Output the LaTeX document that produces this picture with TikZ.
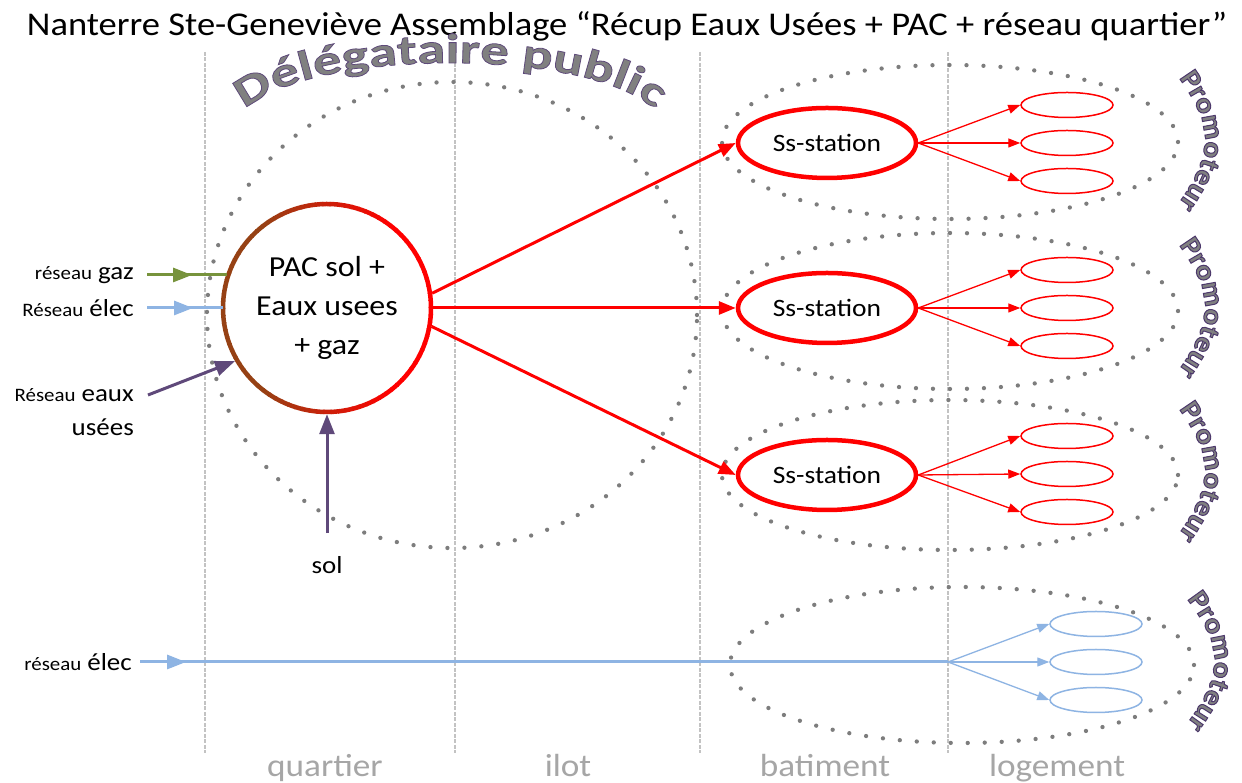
\documentclass[tikz,border=0pt]{standalone}
\usepackage{fontspec}
\setmainfont{Carlito}[FakeStretch=1.1]
\newfontfamily\wafont{Carlito}[FakeStretch=1.35]
\usepackage{tikz}
\usetikzlibrary{shapes.geometric}
\usetikzlibrary{positioning}
\usetikzlibrary{arrows.meta}
\usetikzlibrary{decorations.text}
\usetikzlibrary{decorations.markings}
\definecolor{redc}{RGB}{255,0,0}
\definecolor{brownc}{RGB}{150,65,20}
\definecolor{greenc}{RGB}{119,147,60}
\definecolor{bluec}{RGB}{142,180,227}
\definecolor{purplec}{RGB}{95,73,122}
\definecolor{dotgray}{RGB}{125,125,125}
\definecolor{linegray}{RGB}{195,195,195}
\definecolor{lblgray}{RGB}{166,166,166}
\definecolor{wagray}{RGB}{128,128,128}
\tikzset{
    vline/.style = {draw=linegray, line width=1.2pt, dash pattern=on 4pt off 1.5pt},
    grpdots/.style = {draw=dotgray, line width=4.3pt, line cap=round, dash pattern=on 0pt off 17pt},
    collbl/.style = {anchor=base, text=lblgray, font=\fontsize{32pt}{36pt}\selectfont},
    txtin/.style = {anchor=east, inner sep=1pt},
    pacnode/.style = {circle, minimum size=208pt, inner sep=0pt, outer sep=2.25pt, align=center, font=\fontsize{29pt}{39pt}\selectfont},
    ssnode/.style = {ellipse, draw=redc, line width=4.5pt, minimum width=178pt, minimum height=70pt, inner sep=0pt, font=\fontsize{25pt}{29pt}\selectfont},
    lognode/.style = {ellipse, draw=redc, line width=1.5pt, minimum width=92pt, minimum height=25pt, inner sep=0pt},
    lognodeb/.style = {ellipse, draw=bluec, line width=1.5pt, minimum width=92pt, minimum height=25pt, inner sep=0pt},
    midarrow/.style = {postaction={decorate}, decoration={markings, mark=at position #1 with {\arrow{Triangle[length=19pt,width=14pt]}}}},
    edger/.style = {line width=3pt, draw=redc, -{Triangle[length=17pt,width=13pt]}},
    edgert/.style = {line width=1.3pt, draw=redc, -{Triangle[length=12pt,width=9pt]}},
    edgebt/.style = {line width=1.3pt, draw=bluec, -{Triangle[length=12pt,width=9pt]}},
    edgeg/.style = {line width=3pt, draw=greenc, fill=greenc, midarrow=45pt},
    edgebl/.style = {line width=3pt, draw=bluec, fill=bluec, midarrow=46pt},
    edgep/.style = {line width=3pt, draw=purplec, -{Triangle[length=20pt,width=15pt]}},
    promo/.style = {decorate, decoration={text along path, text={|\prmstyle|Promoteur}, text align={fit to path}}}
}
\newcommand{\petit}{\fontsize{19pt}{21pt}\selectfont}
\newcommand{\outlpurple}{\special{pdf:literal direct 2 Tr 0.8 w 0.37 0.29 0.48 RG}}
\newcommand{\outlpurplep}{\special{pdf:literal direct 2 Tr 1.0 w 0.30 0.22 0.42 RG}}
\newcommand{\dlgstyle}{\wafont\bfseries\fontsize{42pt}{42pt}\selectfont\color{wagray}\outlpurple}
\newcommand{\prmstyle}{\bfseries\fontsize{28pt}{28pt}\selectfont\color{wagray}\outlpurplep}

\begin{document}
\begin{tikzpicture}[x=1pt, y=1pt, font=\fontsize{24.5pt}{29pt}\selectfont]
\useasboundingbox (0,0) rectangle (1242,783);
\fill[white] (0,0) rectangle (1242,783);
\node[anchor=base, font=\fontsize{33.2pt}{38pt}\selectfont] (title) at (627,747) {Nanterre Ste-Geneviève Assemblage “Récup Eaux Usées + PAC + réseau quartier”};
% echelles
\foreach \x in {205,455,700,948}
  \draw[vline] (\x,731) -- (\x,30);
\node[collbl] (quartier) at (325,6) {quartier};
\node[collbl] (ilot) at (568,6) {ilot};
\node[collbl] (batiment) at (825,6) {batiment};
\node[collbl] (logement) at (1057,6) {logement};
% perimetres
\draw[grpdots] (452,468) ellipse [x radius=245, y radius=233];
\foreach \y/\r in {641/77, 472/78, 308/75}
  \draw[grpdots] (950,\y) ellipse [x radius=228, y radius=\r];
\draw[grpdots] (962,118) ellipse [x radius=232, y radius=78];
%
\node[pacnode] (pac) at (327,475) {PAC sol +\\Eaux usees\\+ gaz};
\foreach \a in {0,4,...,356} {
  \pgfmathsetmacro\mixv{max(0,min(100,50+80*cos(\a+2)))}
  \draw[line width=4.5pt, draw=redc!\mixv!brownc] ([shift={(\a:104)}]pac.center) arc [start angle=\a, end angle=\a+4.6, radius=104];
}
\node[ssnode] (ss1) at (827,640) {Ss-station};
\node[ssnode] (ss2) at (827,475) {Ss-station};
\node[ssnode] (ss3) at (827,308) {Ss-station};
\foreach \s/\y in {1/640, 2/475, 3/309} {
  \node[lognode] (lg\s1) at (1067,{\y+38}) {};
  \node[lognode] (lg\s2) at (1067,\y) {};
  \node[lognode] (lg\s3) at (1067,{\y-38}) {};
  \foreach \k in {1,2,3}
    \draw[edgert] (ss\s.east) -- (lg\s\k.west);
}
\node[lognodeb] (lgb1) at (1096,159) {};
\node[lognodeb] (lgb2) at (1096,121) {};
\node[lognodeb] (lgb3) at (1096,83) {};
% entrees
\node[txtin] (rgaz) at (135,508) {{\petit réseau} gaz};
\node[txtin] (relec) at (135,475) {{\petit Réseau} élec};
\node[txtin] (reaux) at (135,388) {{\petit Réseau} eaux};
\node[txtin] (reaux2) at (135,356) {usées};
\node[below=139pt of pac] (sol) {sol};
\node[txtin] (relec2) at (133,121) {{\petit réseau} élec};
\coordinate (bsplit) at (948,121);
%
\draw[edgeg, shorten >=-6pt] ([xshift=12pt]rgaz.east) -- (rgaz.east -| pac.west);
\draw[edgebl, shorten >=-2pt] ([xshift=12pt]relec.east) -- (relec.east -| pac.west);
\draw[edgep] ([xshift=13pt]reaux.east) -- (pac.210);
\draw[edgep] ([yshift=20pt]sol.north) -- (pac.south);
\draw[edger] (pac.8) -- (ss1.west);
\draw[edger] (pac.east) -- (ss2.west);
\draw[edger] (pac.-10) -- (ss3.west);
\draw[edgebl] ([xshift=7pt]relec2.east) -- (bsplit);
\foreach \k in {1,2,3}
  \draw[edgebt] (bsplit) -- (lgb\k.west);
% textes courbes
\path[decorate, decoration={text along path, text={|\dlgstyle|Délégataire public}, text align=center}]
  (235,660) .. controls (275,740) and (625,740) .. (665,660);
\foreach \y in {644,477,313}
  \path[promo] (1179,{\y+61}) .. controls (1213,{\y+14}) and (1213,{\y-14}) .. (1181,{\y-61});
\path[promo] (1187,184) .. controls (1223,137) and (1223,109) .. (1189,62);
\end{tikzpicture}
\end{document}
